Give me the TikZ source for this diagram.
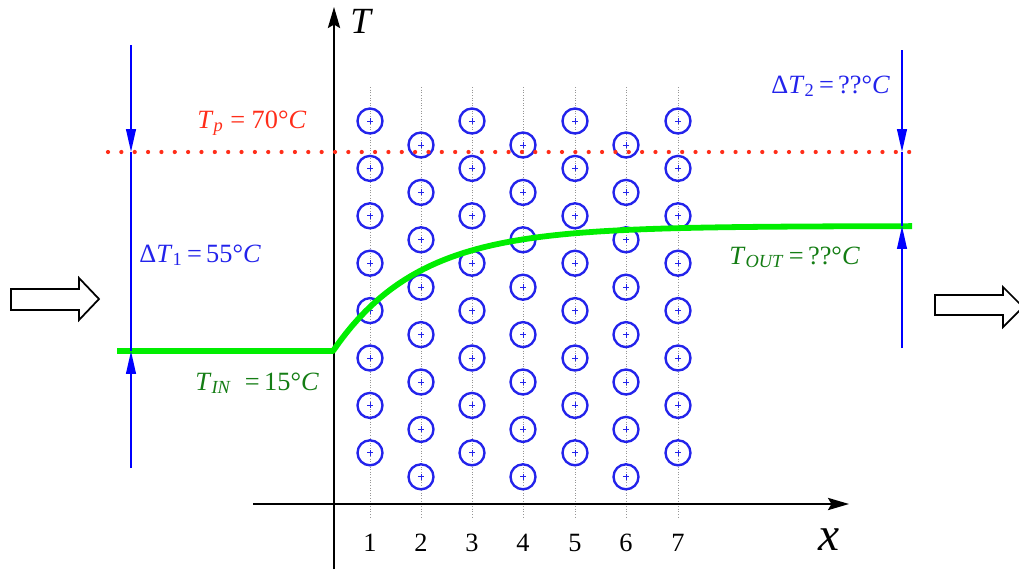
\documentclass[tikz,border=0pt]{standalone}
\usepackage{fontspec}
\setmainfont{Liberation Serif}
\usetikzlibrary{arrows.meta}

\definecolor{deltablue}{RGB}{0,0,255}
\definecolor{tubeblue}{RGB}{35,35,235}
\definecolor{platered}{RGB}{255,45,25}
\definecolor{curvegreen}{RGB}{0,238,0}
\definecolor{labelgreen}{RGB}{20,125,20}
\definecolor{ticklinegray}{RGB}{150,150,150}

\newcommand{\sbs}[1]{\textsubscript{#1}}

\begin{document}
\begin{tikzpicture}[x=0.02cm, y=-0.02cm, font=\fontsize{15}{18}\selectfont]
  \tikzset{
    axisline/.style={black, line width=0.9pt, -{Stealth[length=12pt, width=7pt, inset=2pt]}},
    deltaline/.style={deltablue, line width=1.1pt},
    deltaarrow/.style={deltaline, -{Triangle[length=13pt, width=5.5pt]}},
    tubecircle/.style={tubeblue, line width=1.35pt},
    tubemark/.style={tubeblue, line width=0.45pt},
    flowarrow/.style={black, line width=1pt, fill=white},
    celabel/.style={anchor=base west, inner sep=0pt}
  }
  \useasboundingbox (0,0) rectangle (1019,569);

  % tube rows
  \foreach \col/\cx in {1/370,2/421,3/472,4/523,5/575,6/626,7/678} {
    \draw[ticklinegray, densely dotted, line width=0.5pt] (\cx,87) -- (\cx,519);
    \node[font=\fontsize{15}{18}\selectfont, anchor=base] (tick\col) at (\cx,551) {\col};
  }
  \foreach \cx in {370,472,575,678} {
    \foreach \k in {0,...,7} {
      \draw[tubecircle] (\cx,{121+47.4*\k}) circle[radius=12.5];
      \draw[tubemark] (\cx-3,{121+47.4*\k}) -- (\cx+3,{121+47.4*\k})
                      (\cx,{118+47.4*\k}) -- (\cx,{124+47.4*\k});
    }
  }
  \foreach \cx in {421,523,626} {
    \foreach \k in {0,...,7} {
      \draw[tubecircle] (\cx,{145+47.4*\k}) circle[radius=12.5];
      \draw[tubemark] (\cx-3,{145+47.4*\k}) -- (\cx+3,{145+47.4*\k})
                      (\cx,{142+47.4*\k}) -- (\cx,{148+47.4*\k});
    }
  }

  % axes
  \coordinate (torigin) at (334,569);
  \coordinate (ttop) at (334,7);
  \coordinate (xstart) at (253,504);
  \coordinate (xend) at (849,504);
  \draw[axisline] (torigin) -- (ttop);
  \draw[axisline] (xstart) -- (xend);
  \node[font=\fontsize{21}{24}\selectfont\itshape, anchor=base west, inner sep=0pt] (tlabel) at (350,33) {T};
  \node[font=\fontsize{27}{30}\selectfont\itshape, anchor=base, inner sep=0pt] (xlabel) at (829,550) {x};

  % plate temperature
  \coordinate (plateL) at (108,152);
  \coordinate (plateR) at (912,152);
  \draw[platered, line width=2.4pt, line cap=round, dash pattern=on 0pt off 7.6pt] (plateL) -- (plateR);
  \node[celabel, text=platered] (tplabel) at (197,128) {\textit{T}\sbs{\textit{p}} = 70°\textit{C}};

  % fluid temperature
  \coordinate (inL) at (117,351);
  \coordinate (kink) at (333,351);
  \coordinate (outR) at (912,226);
  \draw[curvegreen, line width=3.3pt, line join=round]
    (inL) -- (kink) -- plot[domain=333:912, samples=90] (\x, {226+125*exp(-(\x-333)/85)});
  \node[celabel, text=labelgreen] (tinlabel) at (195,390) {\textit{T}\sbs{\textit{IN}}\ \ =\,15°\textit{C}};
  \node[celabel, text=labelgreen] (toutlabel) at (729,264) {\textit{T}\sbs{\textit{OUT}}\,=\,??°\textit{C}};

  % temperature differences
  \coordinate (d1top) at (131,45);
  \coordinate (d1plate) at (131,152);
  \coordinate (d1in) at (131,351);
  \coordinate (d1bot) at (131,468);
  \draw[deltaarrow] (d1top) -- (d1plate);
  \draw[deltaline] (d1plate) -- (d1in);
  \draw[deltaarrow] (d1bot) -- (d1in);
  \node[celabel, text=tubeblue] (d1label) at (139,262) {Δ\textit{T}\sbs{1}\,=\,55°\textit{C}};

  \coordinate (d2top) at (902,50);
  \coordinate (d2plate) at (902,152);
  \coordinate (d2out) at (902,226);
  \coordinate (d2bot) at (902,348);
  \draw[deltaarrow] (d2top) -- (d2plate);
  \draw[deltaline] (d2plate) -- (d2out);
  \draw[deltaarrow] (d2bot) -- (d2out);
  \node[celabel, text=tubeblue] (d2label) at (771,93) {Δ\textit{T}\sbs{2}\,=\,??°\textit{C}};

  % flow direction
  \draw[flowarrow] (11,289) -- (79,289) -- (79,278) -- (99,299) -- (79,320) -- (79,310) -- (11,310) -- cycle;
  \draw[flowarrow] (935,295) -- (1003,295) -- (1003,287) -- (1023,307) -- (1003,327) -- (1003,315) -- (935,315) -- cycle;
\end{tikzpicture}
\end{document}
